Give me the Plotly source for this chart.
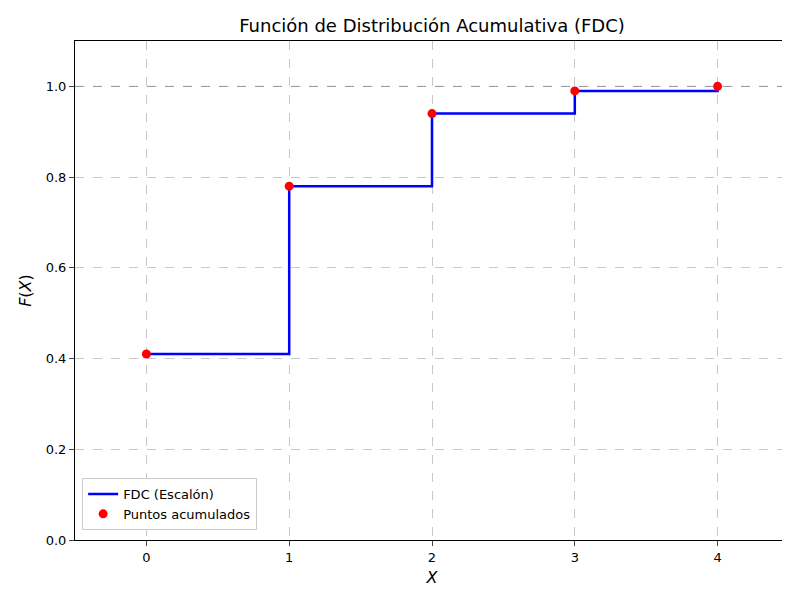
import plotly.graph_objects as go

x_vals = [0, 1, 2, 3, 4]
cdf_vals = [0.41, 0.78, 0.94, 0.99, 1.0]

fig = go.Figure()
fig.add_trace(go.Scatter(x=x_vals, y=cdf_vals, mode="lines", line_shape="hv",
                         line=dict(color="blue", width=2.5), name="FDC (Escalón)"))
fig.add_trace(go.Scatter(x=x_vals, y=cdf_vals, mode="markers",
                         marker=dict(color="red", size=9), name="Puntos acumulados"))
fig.add_hline(y=1.0, line=dict(color="gray", width=1, dash="dash"), opacity=0.7)

axis = dict(showline=True, linecolor="black", mirror=True, ticks="outside",
            gridcolor="rgba(176,176,176,0.7)", griddash="dash", zeroline=False,
            automargin=False, tickfont=dict(size=13, color="black"))
fig.update_xaxes(range=[-0.5, 4.5], tickvals=x_vals, **axis,
                 title=dict(text="<i>X</i>", font=dict(size=16), standoff=8))
fig.update_yaxes(range=[0, 1.1], tickvals=[0, 0.2, 0.4, 0.6, 0.8, 1.0],
                 tickformat=".1f", **axis,
                 title=dict(text="<i>F</i>(<i>X</i>)", font=dict(size=16), standoff=10))
fig.update_layout(
    width=790, height=590, plot_bgcolor="white", paper_bgcolor="white",
    font=dict(family="DejaVu Sans", color="black"),
    title=dict(text="Función de Distribución Acumulativa (FDC)", x=0.5, xanchor="center",
               xref="paper", y=0.97, yanchor="middle", font=dict(size=18)),
    margin=dict(l=67, r=9, t=33, b=58, autoexpand=False),
    legend=dict(x=0.01, y=0.02, xanchor="left", yanchor="bottom",
                bordercolor="#cccccc", borderwidth=1, bgcolor="white",
                font=dict(size=13)),
)
fig.write_html("out.html")
